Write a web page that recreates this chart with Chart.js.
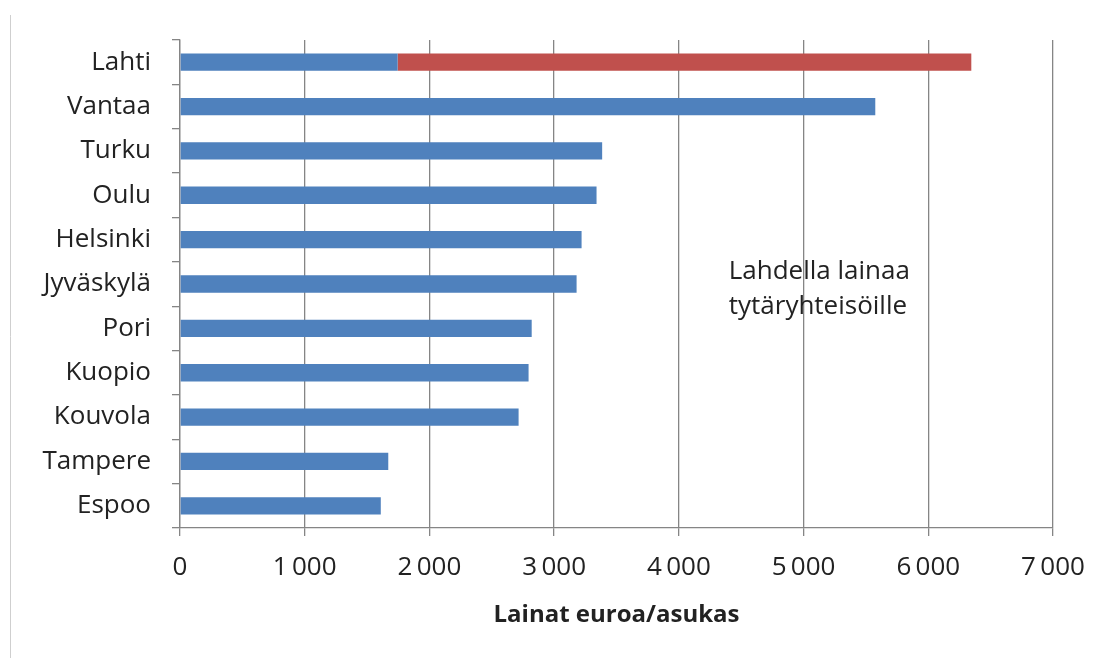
<!DOCTYPE html>
<html>
<head>
<meta charset="utf-8">
<script src="https://cdn.jsdelivr.net/npm/chart.js@4.4.1/dist/chart.umd.min.js"></script>
<style>
  html, body { margin: 0; padding: 0; background: #fff; }
  #wrap { width: 1101px; height: 658px; position: relative; }
</style>
</head>
<body>
<div id="wrap"><canvas id="chart"></canvas></div>
<script>
const cities = ["Lahti", "Vantaa", "Turku", "Oulu", "Helsinki", "Jyväskylä", "Pori", "Kuopio", "Kouvola", "Tampere", "Espoo"];
const loans = [1745, 5575, 3385, 3340, 3220, 3180, 2820, 2795, 2715, 1670, 1610];
const subsidiaryLoans = [4600, 0, 0, 0, 0, 0, 0, 0, 0, 0, 0];
const xTicks = [0, 1000, 2000, 3000, 4000, 5000, 6000, 7000];
const axisTitle = "Lainat euroa/asukas";
const noteLines = ["Lahdella lainaa", "tytäryhteisöille"];

const FONT = "'Open Sans', 'Liberation Sans', sans-serif";
const TEXT = "#222";
const GRID = "#858585";

const fmt = (v) => String(v).replace(/\B(?=(\d{3})+(?!\d))/g, "\u2009");

const frame = {
  id: "frame",
  beforeDraw(chart) {
    const ctx = chart.ctx;
    ctx.save();
    ctx.strokeStyle = "#cfcfcf";
    ctx.lineWidth = 1;
    ctx.beginPath();
    ctx.moveTo(10.5, 15);
    ctx.lineTo(10.5, 658);
    ctx.stroke();
    ctx.restore();
  }
};

const note = {
  id: "note",
  afterDatasetsDraw(chart) {
    const { ctx, scales } = chart;
    const x = scales.x.getPixelForValue(4400);
    const y = scales.y.getPixelForValue(5);
    ctx.save();
    ctx.fillStyle = TEXT;
    ctx.font = "26px " + FONT;
    ctx.textBaseline = "middle";
    ctx.fillText(noteLines[0], x, y - 12);
    ctx.fillText(noteLines[1], x, y + 23);
    ctx.restore();
  }
};

new Chart(document.getElementById("chart"), {
  type: "bar",
  data: {
    labels: cities,
    datasets: [
      { data: loans, backgroundColor: "#4f81bd", barPercentage: 0.39, categoryPercentage: 1 },
      { data: subsidiaryLoans, backgroundColor: "#c0504d", barPercentage: 0.39, categoryPercentage: 1 }
    ]
  },
  options: {
    indexAxis: "y",
    responsive: true,
    maintainAspectRatio: false,
    animation: false,
    layout: { padding: { top: 40, right: 48, bottom: 0, left: 0 } },
    plugins: { legend: { display: false }, tooltip: { enabled: false } },
    scales: {
      x: {
        stacked: true,
        min: 0,
        max: 7000,
        afterBuildTicks: (s) => { s.ticks = xTicks.map((v) => ({ value: v })); },
        afterFit: (s) => { s.height = 130; },
        grid: { color: GRID, lineWidth: 1.3, tickLength: 8, drawTicks: true },
        border: { color: GRID, width: 1.3 },
        ticks: {
          color: TEXT,
          font: { family: FONT, size: 26 },
          padding: 16,
          maxRotation: 0,
          callback: (v) => fmt(v)
        },
        title: {
          display: true,
          text: axisTitle,
          color: TEXT,
          font: { family: FONT, size: 24, weight: "bold" },
          padding: { top: 0, bottom: 28 }
        }
      },
      y: {
        stacked: true,
        afterFit: (s) => { s.width = 180; },
        grid: { drawOnChartArea: false, color: GRID, lineWidth: 1.3, tickLength: 8, offset: true },
        border: { color: GRID, width: 1.3 },
        ticks: {
          color: TEXT,
          font: { family: FONT, size: 26 },
          padding: 21
        }
      }
    }
  },
  plugins: [frame, note]
});
</script>
</body>
</html>
